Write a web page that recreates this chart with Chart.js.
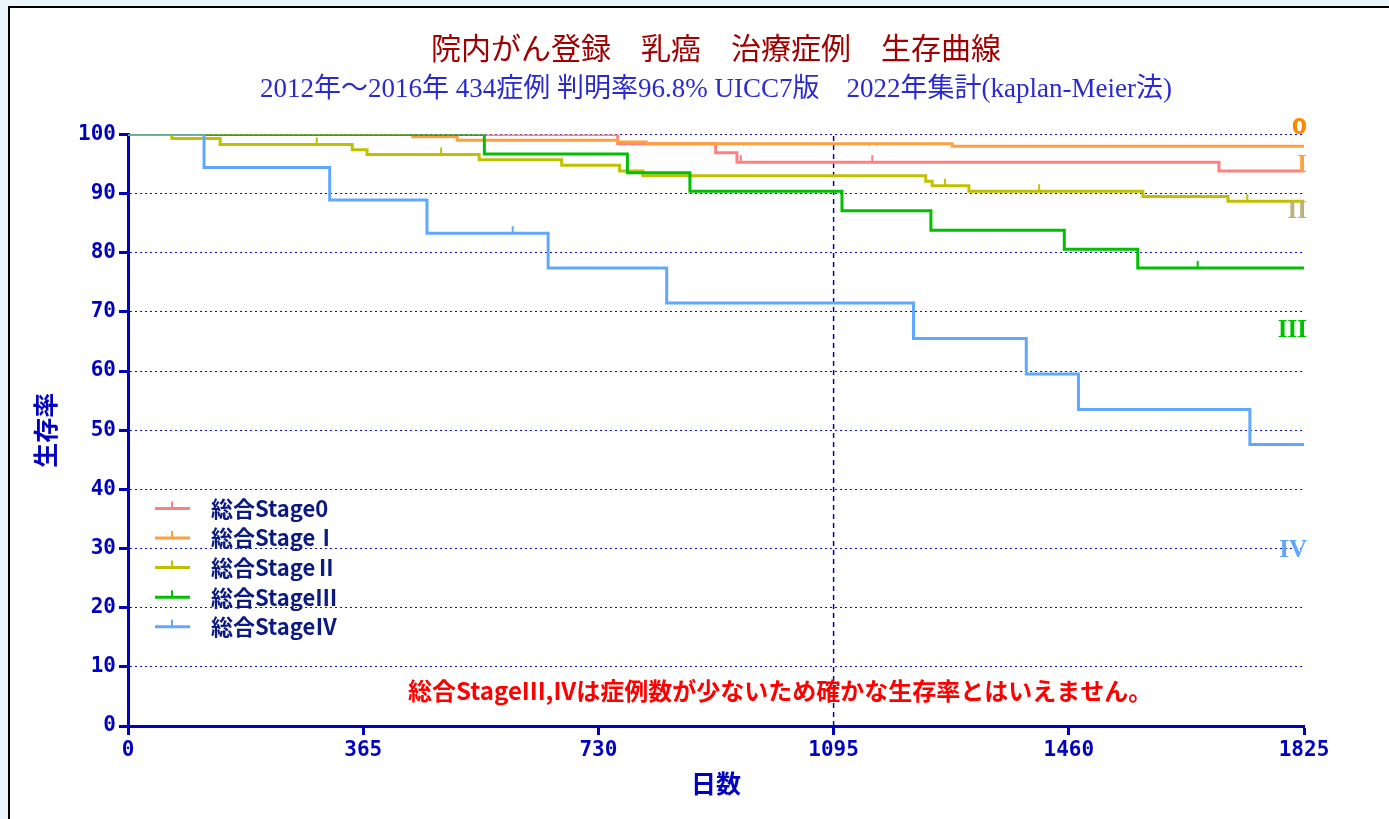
<!DOCTYPE html>
<html lang="ja">
<head>
<meta charset="UTF-8">
<title>院内がん登録 乳癌 治療症例 生存曲線</title>
<script src="https://cdn.jsdelivr.net/npm/chart.js@4"></script>
<style>
  body { margin: 0; background: #eaf6fc; overflow: hidden; }
  .panel {
    position: absolute; left: 8px; top: 6px;
    width: 1400px; height: 830px;
    border: 2px solid #000; background: #fff;
  }
  canvas { display: block; }
</style>
</head>
<body>
<div class="panel"><canvas id="km" width="1379" height="811"></canvas></div>
<script>
// Kaplan-Meier steps (day, survival %), plus censored days
const stageNames = ['総合Stage0', '総合StageⅠ', '総合StageⅡ', '総合StageⅢ', '総合StageⅣ'];

const stage0Days = [0, 760, 912, 945, 1693, 1825];
const stage0Surv = [100, 98.4, 96.9, 95.3, 93.8, 93.8];
const stage0Cens = [951, 1155];

const stage1Days = [0, 442, 511, 760, 804, 1279, 1825];
const stage1Surv = [100, 99.6, 99.0, 98.7, 98.4, 98.0, 98.0];
const stage1Cens = [];

const stage2Days = [0, 68, 143, 348, 371, 545, 673, 763, 799, 1238, 1248, 1305, 1575, 1707, 1825];
const stage2Surv = [100, 99.3, 98.3, 97.4, 96.6, 95.7, 94.8, 93.8, 93.0, 92.1, 91.3, 90.4, 89.5, 88.7, 88.7];
const stage2Cens = [293, 486, 1268, 1414, 1737];

const stage3Days = [0, 553, 775, 872, 1108, 1246, 1453, 1567, 1825];
const stage3Surv = [100, 96.7, 93.5, 90.4, 87.1, 83.8, 80.6, 77.4, 77.4];
const stage3Cens = [1660];

const stage4Days = [0, 118, 313, 464, 652, 836, 1219, 1394, 1475, 1741, 1825];
const stage4Surv = [100, 94.4, 88.9, 83.3, 77.4, 71.5, 65.5, 59.5, 53.5, 47.6, 47.6];
const stage4Cens = [597];

const xTicks = [0, 365, 730, 1095, 1460, 1825];
const yTicks = [0, 10, 20, 30, 40, 50, 60, 70, 80, 90, 100];
const markDay = 1095;

const endLabels = ['0', 'I', 'II', 'III', 'IV'];
const endLabelY = [101, 94.8, 87, 66.9, 29.7];

const noteText = '総合StageIII,IVは症例数が少ないため確かな生存率とはいえません。';
const noteAt = [1012, 5.9];

const titleText = '院内がん登録　乳癌　治療症例　生存曲線';
const subtitleText = '2012年～2016年 434症例 判明率96.8% UICC7版　2022年集計(kaplan-Meier法)';

const stageColors = ['#ff8080', '#ffa040', '#c0c000', '#00c000', '#60a8ff'];
const endColors = ['#ff8800', '#ffa040', '#c0b080', '#00c000', '#60a8ff'];
const axisBlue = '#0000c0';

function kmPoints(days, surv, cens) {
  const pts = days.map((d, i) => ({ x: d, y: surv[i], c: false }));
  cens.forEach(c => {
    let y = surv[0];
    days.forEach((d, i) => { if (d <= c) y = surv[i]; });
    pts.push({ x: c, y: y, c: true });
  });
  return pts.sort((a, b) => a.x - b.x);
}

const stages = [
  [stage0Days, stage0Surv, stage0Cens],
  [stage1Days, stage1Surv, stage1Cens],
  [stage2Days, stage2Surv, stage2Cens],
  [stage3Days, stage3Surv, stage3Cens],
  [stage4Days, stage4Surv, stage4Cens]
];

// later stages are painted on top, as in the original
const datasets = stages.map((s, i) => ({
  label: stageNames[i],
  data: kmPoints(s[0], s[1], s[2]),
  order: stages.length - i,
  borderColor: stageColors[i],
  borderWidth: 3,
  stepped: true,
  fill: false,
  pointStyle: 'dash',
  pointRotation: -90,
  pointRadius: ctx => (ctx.raw && ctx.raw.c ? 7 : 0),
  pointBorderColor: stageColors[i],
  pointBorderWidth: 2
}));

datasets.push({
  label: 'mark',
  data: [{ x: markDay, y: 0 }, { x: markDay, y: 100 }],
  order: 10,
  borderColor: '#0000a0',
  borderWidth: 1.5,
  borderDash: [5, 4],
  pointRadius: 0
});

const overlay = {
  id: 'overlay',
  afterDatasetsDraw(chart) {
    const { ctx, chartArea: a, scales: { x, y } } = chart;
    ctx.save();

    // legend inside plot
    ctx.font = "bold 22px 'Noto Sans CJK JP'";
    ctx.textBaseline = 'middle';
    ctx.textAlign = 'left';
    stageNames.forEach((name, i) => {
      const ly = a.top + 374 + i * 29.6;
      ctx.strokeStyle = stageColors[i];
      ctx.lineWidth = 3;
      ctx.beginPath(); ctx.moveTo(a.left + 27, ly); ctx.lineTo(a.left + 62, ly); ctx.stroke();
      ctx.lineWidth = 2;
      ctx.beginPath(); ctx.moveTo(a.left + 44, ly); ctx.lineTo(a.left + 44, ly - 7); ctx.stroke();
      ctx.fillStyle = '#0a1a80';
      ctx.fillText(name, a.left + 83, ly);
    });

    // stage labels at right end
    ctx.textAlign = 'right';
    endLabels.forEach((t, i) => {
      ctx.font = i === 0 ? "bold 22px 'DejaVu Sans'" : "bold 25px 'Liberation Serif'";
      ctx.fillStyle = endColors[i];
      ctx.fillText(t, a.right + 3, y.getPixelForValue(endLabelY[i]));
    });

    // red note
    ctx.font = "bold 24px 'Noto Sans CJK JP'";
    ctx.fillStyle = '#ff0000';
    ctx.textAlign = 'center';
    ctx.fillText(noteText, x.getPixelForValue(noteAt[0]), y.getPixelForValue(noteAt[1]));
    ctx.restore();
  }
};

const tickFont = { family: "'DejaVu Sans Mono'", size: 21, weight: 'bold' };
const titleFont = { family: "'Noto Sans CJK JP'", size: 25, weight: 'bold' };

new Chart(document.getElementById('km'), {
  type: 'line',
  data: { datasets },
  options: {
    responsive: false,
    animation: false,
    layout: { padding: { top: 0, left: 0, right: 85, bottom: 0 } },
    plugins: {
      legend: { display: false },
      tooltip: { enabled: false },
      title: {
        display: true,
        fullSize: false,
        text: titleText,
        color: '#a00000',
        font: { family: "'Noto Sans CJK JP'", size: 30, weight: 'normal' },
        padding: { top: 22, bottom: 4 }
      },
      subtitle: {
        display: true,
        fullSize: false,
        text: subtitleText,
        color: '#2a2ad0',
        font: { family: "'Liberation Serif', 'Noto Sans CJK JP'", size: 27, weight: 'normal' },
        padding: { top: 4, bottom: 28 }
      }
    },
    scales: {
      x: {
        type: 'linear',
        min: 0,
        max: 1825,
        afterBuildTicks: axis => { axis.ticks = xTicks.map(v => ({ value: v })); },
        afterFit: s => { s.height = 93; },
        ticks: { color: axisBlue, font: tickFont, padding: 3, maxRotation: 0, autoSkip: false, callback: v => String(v) },
        grid: { drawOnChartArea: false, tickLength: 9, tickWidth: 3, tickColor: axisBlue },
        border: { color: axisBlue, width: 3 },
        title: { display: true, text: '日数', color: axisBlue, font: titleFont, padding: { bottom: 21 } }
      },
      y: {
        min: 0,
        max: 100,
        afterBuildTicks: axis => { axis.ticks = yTicks.map(v => ({ value: v })); },
        afterFit: s => { s.width = 118; },
        ticks: { color: axisBlue, font: tickFont, padding: 3 },
        grid: { color: '#1010c0', lineWidth: 1, tickLength: 9, tickWidth: 3, tickColor: axisBlue },
        border: { color: axisBlue, width: 3, dash: [2, 3] },
        title: { display: true, text: '生存率', color: axisBlue, font: titleFont, padding: { top: 20 } }
      }
    }
  },
  plugins: [overlay]
});
</script>
</body>
</html>
